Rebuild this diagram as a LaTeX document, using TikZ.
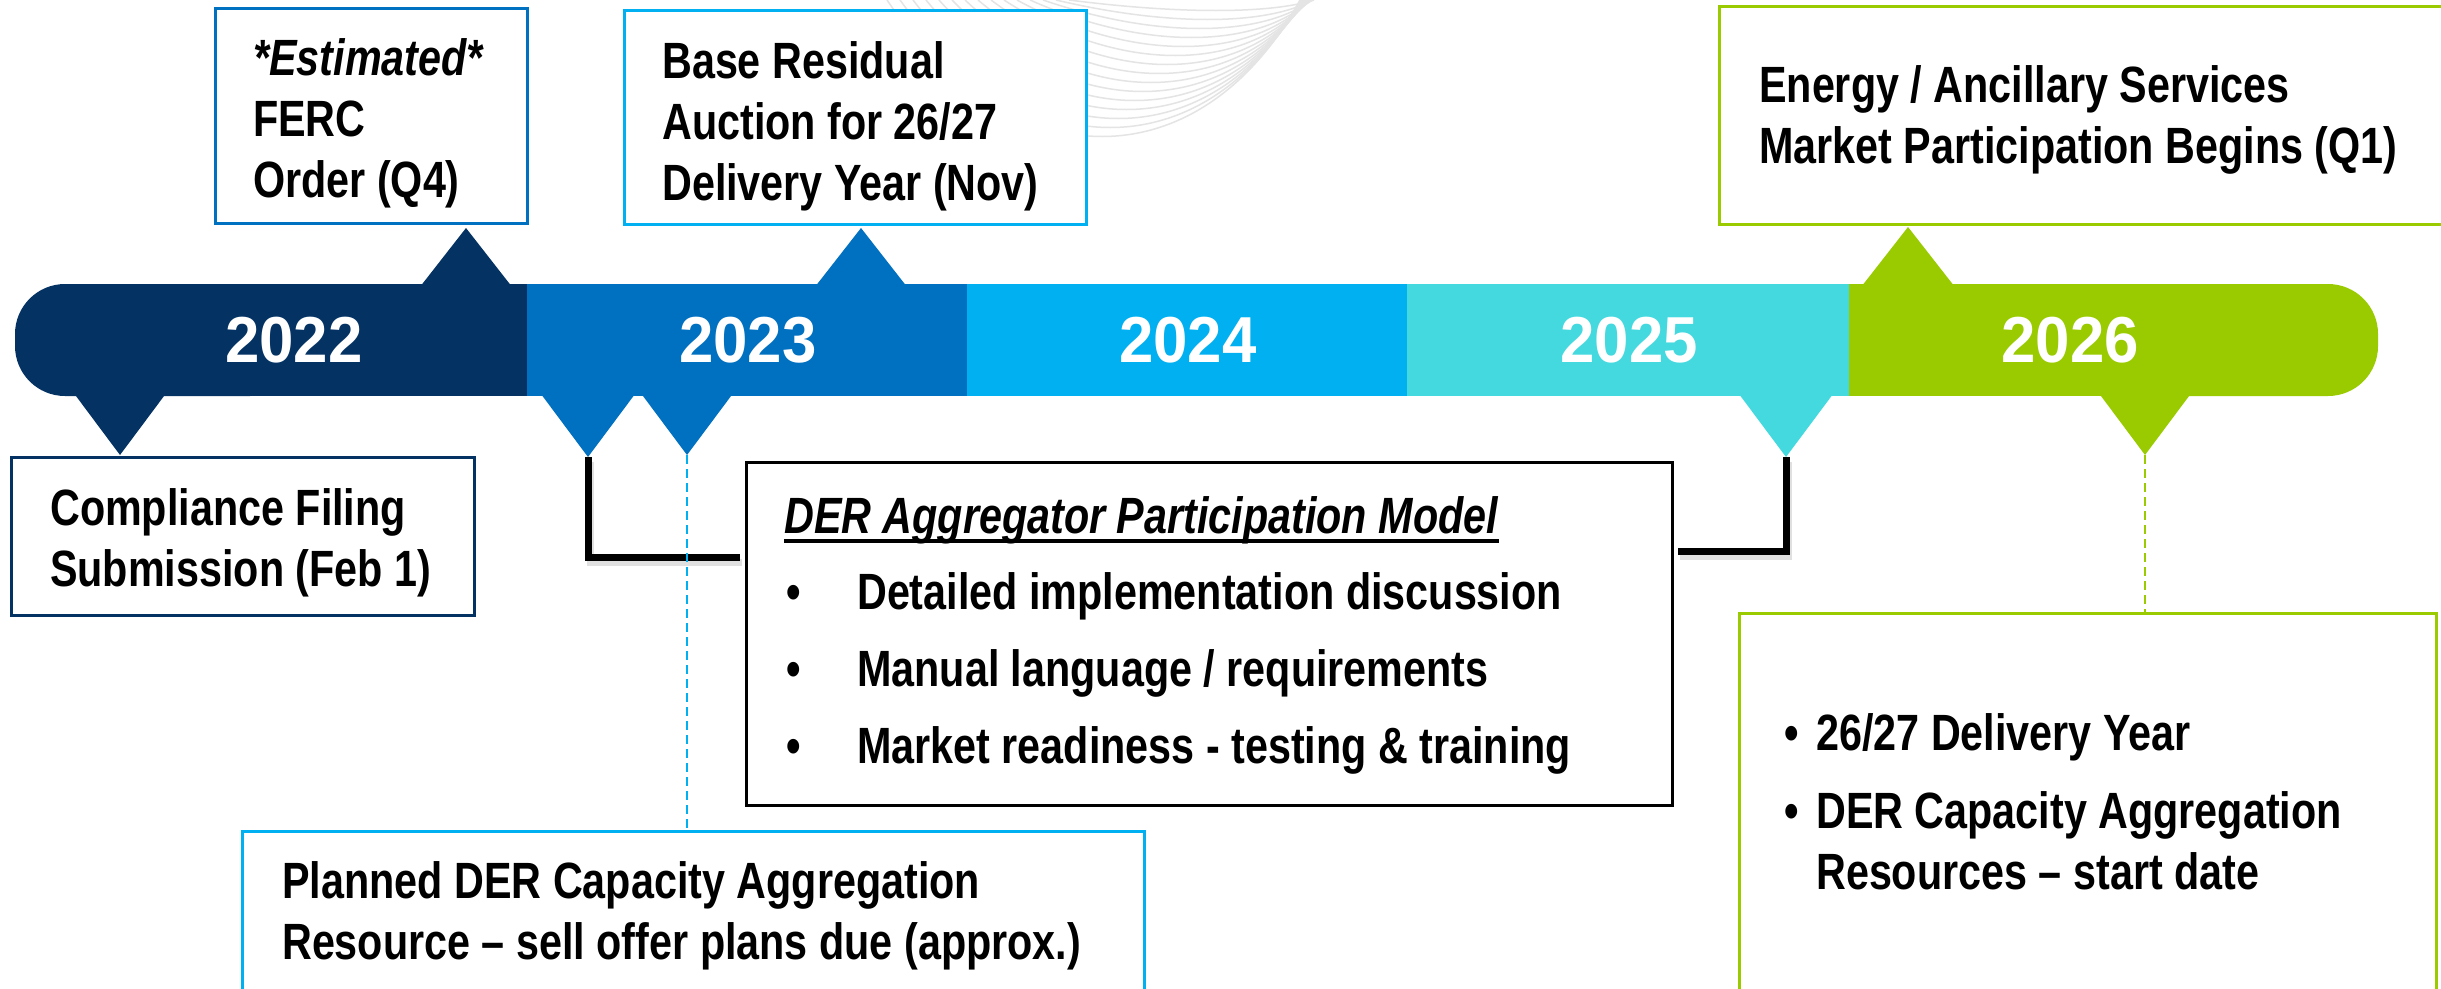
\documentclass[tikz,border=0pt]{standalone}
\usepackage{fontspec}
\setmainfont{Liberation Sans}
\newfontfamily\narrowfont{Liberation Sans}[FakeStretch=0.81]
\newfontfamily\yearfont{Liberation Sans}[FakeStretch=0.95]

\definecolor{c22}{HTML}{033263}
\definecolor{c23}{HTML}{0070C0}
\definecolor{c24}{HTML}{00B0F0}
\definecolor{c25}{HTML}{43D9DF}
\definecolor{c26}{HTML}{99CB00}
\definecolor{swirl}{HTML}{E4E4E4}

% heavy underline for the card title
\newcommand{\titleline}[1]{\setbox0\hbox{#1}\rlap{\rule[-10pt]{\wd0}{4.5pt}}\box0}

\tikzset{
  year/.style={text=white, inner sep=0pt, font=\yearfont\bfseries\fontsize{65}{78}\selectfont},
  card/.style={draw=#1, line width=2.5pt, fill=white, anchor=north west, inner sep=0pt},
  cardtext/.style={anchor=north west, inner sep=0pt, align=left, font=\narrowfont\bfseries\fontsize{51}{61}\selectfont},
  elbow/.style={line width=7pt, black},
  elbowshade/.style={line width=7pt, black, opacity=0.12},
  guide/.style={dash pattern=on 9pt off 5pt, line width=#1},
}

\begin{document}
\begin{tikzpicture}[x=1pt, y=-1pt]
	\clip (0,0) rectangle (2441,988);
	\fill[white] (0,0) rectangle (2441,988);

	% swirl in the background
	\foreach \i in {0,...,14}
		\draw[swirl, line width=1.5pt] (887+13*\i,0) .. controls (1010+12*\i,182-12*\i) and (1200+5*\i,182-12*\i) .. (1300+\i,0);

	% timeline bar
	\fill[c22, rounded corners=50pt] (15,284) rectangle (300,396);
	\fill[c22] (120,284) rectangle (527,396);
	\fill[c23] (527,284) rectangle (967,396);
	\fill[c24] (967,284) rectangle (1407,396);
	\fill[c25] (1407,284) rectangle (1849,396);
	\fill[c26, rounded corners=50pt] (2100,284) rectangle (2378,396);
	\fill[c26] (1849,284) rectangle (2200,396);

	% pointers
	\coordinate (t22u) at (466,228);
	\coordinate (t23u) at (861,228);
	\coordinate (t26u) at (1908,227);
	\coordinate (t22d) at (120,455);
	\coordinate (t23da) at (588,457);
	\coordinate (t23db) at (687,455);
	\coordinate (t25d) at (1786,457);
	\coordinate (t26d) at (2145,455);
	\foreach \p/\c in {t22u/c22, t23u/c23, t26u/c26}
		\fill[\c] (\p) -- ++(-50,64) -- ++(100,0) -- cycle;
	\foreach \p/\c in {t22d/c22, t23da/c23, t23db/c23, t25d/c25, t26d/c26}
		\fill[\c] (\p) -- ++(-50,-67) -- ++(100,0) -- cycle;

	\node[year] (y2022) at (294,340) {2022};
	\node[year] (y2023) at (748,340) {2023};
	\node[year] (y2024) at (1188,340) {2024};
	\node[year] (y2025) at (1629,340) {2025};
	\node[year] (y2026) at (2070,340) {2026};

	% cards above the bar
	\node[card=c23, minimum width=312pt, minimum height=215pt] (ferc) at (214,7) {};
	\node[cardtext] (fercText) at (253,38) {\textit{*Estimated*}\\FERC\\Order (Q4)};
	\node[card=c24, minimum width=462pt, minimum height=214pt] (bra) at (623,9) {};
	\node[cardtext] (braText) at (662,41) {Base Residual\\Auction for 26/27\\Delivery Year (Nov)};
	\node[card=c26, minimum width=750pt, minimum height=218pt] (energy) at (1718,5) {};
	\node[cardtext] (energyText) at (1759,65) {Energy / Ancillary Services\\Market Participation Begins (Q1)};

	% cards below the bar
	\node[card=c22, minimum width=463pt, minimum height=158pt] (filing) at (10,456) {};
	\node[cardtext] (filingText) at (50,488) {Compliance Filing\\Submission (Feb 1)};
	\node[card=black, minimum width=926pt, minimum height=343pt] (der) at (745,461) {};
	\node[cardtext] (derText) at (784,496) {\titleline{\textit{DER Aggregator Participation Model}}\\[15pt]
		\hspace*{2pt}\makebox[71pt][l]{•}Detailed implementation discussion\\[16pt]
		\hspace*{2pt}\makebox[71pt][l]{•}Manual language / requirements\\[16pt]
		\hspace*{2pt}\makebox[71pt][l]{•}Market readiness - testing \& training};
	\node[card=c24, minimum width=902pt, minimum height=300pt] (planned) at (241,830) {};
	\node[cardtext] (plannedText) at (282,861) {Planned DER Capacity Aggregation\\Resource – sell offer plans due (approx.)};
	\node[card=c26, minimum width=697pt, minimum height=400pt] (start) at (1738,612) {};
	\node[cardtext] (startText) at (1784,713) {\makebox[32pt][l]{•}26/27 Delivery Year\\[17pt]
		\makebox[32pt][l]{•}DER Capacity Aggregation\\
		\hspace*{32pt}Resources – start date};

	% links to the participation model
	\draw[elbowshade, transform canvas={xshift=2pt, yshift=-5pt}] (t23da) |- ([xshift=-5pt, yshift=-96pt]der.north west);
	\draw[elbowshade, transform canvas={xshift=2pt, yshift=-5pt}] (t25d) |- ([xshift=4pt, yshift=-90pt]der.north east);
	\draw[elbow] (t23da) |- ([xshift=-5pt, yshift=-96pt]der.north west);
	\draw[elbow] (t25d) |- ([xshift=4pt, yshift=-90pt]der.north east);

	\draw[guide=2pt, c24] (t23db) -- (t23db |- planned.north);
	\draw[guide=1.5pt, c26] (t26d) -- (t26d |- start.north);
\end{tikzpicture}
\end{document}
